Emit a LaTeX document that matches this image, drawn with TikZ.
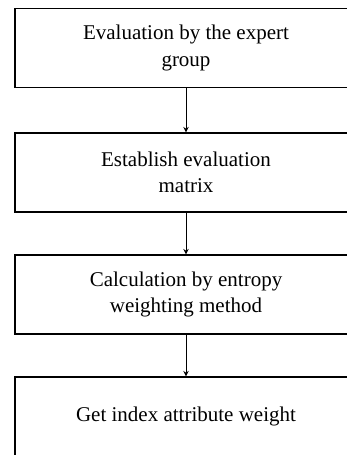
\documentclass[tikz,border=0pt]{standalone}
\usepackage{fontspec}
\setmainfont{Liberation Serif}
\usetikzlibrary{arrows.meta}
\tikzset{stepbox/.style={rectangle,draw,line width=1.2pt,minimum width=342pt,minimum height=79pt,
    inner sep=0pt,align=center,font=\fontsize{21}{26.5}\selectfont},
  arrow/.style={-{Stealth[length=5.5pt,width=5.5pt]},line width=1pt}}

\begin{document}
\begin{tikzpicture}[x=1pt,y=-1pt]
  \path[use as bounding box] (0,0) rectangle (346,455);
  \node[stepbox] (expert) at (186,48) {Evaluation by the expert\\group};
  \node[stepbox] (matrix) at (186,172.5) {Establish evaluation\\matrix};
  \node[stepbox] (entropy) at (186,294.5) {Calculation by entropy\\weighting method};
  \node[stepbox] (weight) at (186,416.5) {Get index attribute weight};
  \draw[arrow] (expert) -- (matrix);
  \draw[arrow] (matrix) -- (entropy);
  \draw[arrow] (entropy) -- (weight);
\end{tikzpicture}
\end{document}
